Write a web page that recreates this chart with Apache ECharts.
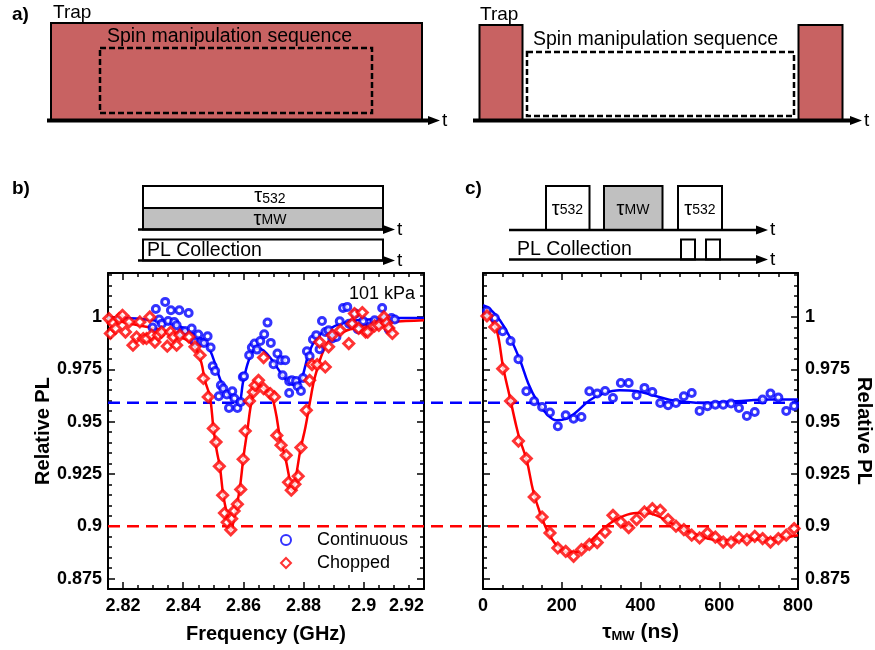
<!DOCTYPE html>
<html>
<head>
<meta charset="utf-8">
<title>Relative PL</title>
<script src="https://cdn.jsdelivr.net/npm/echarts@6/dist/echarts.min.js"></script>
<style>html,body{margin:0;padding:0;background:#fff}#chart{width:875px;height:650px}</style>
</head>
<body>
<div id="chart"></div>
<script>
var FONT = '"Liberation Sans", Arial, sans-serif';

// tick values
var freqTicks = [2.82, 2.84, 2.86, 2.88, 2.9, 2.92];
var plTicks = [0.875, 0.9, 0.925, 0.95, 0.975, 1];
var refLevels = [0.959, 0.9]; // dashed lines: continuous, chopped

// panel b: frequency sweep (GHz, relative PL)
var contFreq = [[2.8298,0.9949],[2.8309,1.0038],[2.8320,0.9988],[2.8329,0.9968],[2.8340,1.0072],[2.8350,0.9981],[2.8359,1.0032],[2.8370,0.9976],[2.8378,0.9960],[2.8387,1.0032],[2.8395,0.9924],[2.8406,0.9933],[2.8418,1.0019],[2.8428,0.9945],[2.8439,0.9880],[2.8450,0.9916],[2.8459,0.9880],[2.8469,0.9876],[2.8481,0.9908],[2.8491,0.9854],[2.8498,0.9764],[2.8506,0.9742],[2.8518,0.9621],[2.8525,0.9674],[2.8533,0.9658],[2.8545,0.9629],[2.8552,0.9565],[2.8563,0.9645],[2.8570,0.9610],[2.8580,0.9565],[2.8591,0.9594],[2.8598,0.9713],[2.8602,0.9717],[2.8619,0.9817],[2.8628,0.9854],[2.8637,0.9873],[2.8645,0.9844],[2.8656,0.9885],[2.8669,0.9917],[2.8680,0.9973],[2.8691,0.9876],[2.8700,0.9774],[2.8713,0.9825],[2.8725,0.9793],[2.8730,0.9721],[2.8739,0.9793],[2.8752,0.9693],[2.8752,0.9637],[2.8761,0.9697],[2.8775,0.9694],[2.8780,0.9669],[2.8791,0.9646],[2.8798,0.9708],[2.8811,0.9836],[2.8820,0.9812],[2.8831,0.9892],[2.8842,0.9913],[2.8853,0.9846],[2.8861,0.9981],[2.8872,0.9928],[2.8883,0.9936],[2.8895,0.9897],[2.8909,0.9904],[2.8920,0.9979],[2.8931,1.0043],[2.8945,1.0048],[2.8951,0.9968],[2.8961,0.9968],[2.8972,1.0016],[2.8980,0.9941],[2.8998,0.9981],[2.9011,0.9932],[2.9022,0.9956],[2.9036,0.9984],[2.9047,0.9964],[2.9061,1.0043],[2.9072,0.9988],[2.9083,0.9940],[2.9092,0.9995],[2.9103,0.9988]];
var chopFreq = [[2.8153,0.9992],[2.8158,0.9921],[2.8167,0.9971],[2.8175,0.9945],[2.8187,0.9992],[2.8198,1.0008],[2.8208,0.9928],[2.8220,0.9976],[2.8233,0.9865],[2.8245,0.9904],[2.8256,0.9976],[2.8267,0.9897],[2.8278,0.9897],[2.8289,1.0000],[2.8295,0.9913],[2.8306,0.9880],[2.8317,0.9913],[2.8328,0.9928],[2.8347,0.9860],[2.8358,0.9928],[2.8367,0.9904],[2.8378,0.9865],[2.8389,0.9913],[2.8419,0.9904],[2.8439,0.9857],[2.8456,0.9817],[2.8467,0.9706],[2.8483,0.9618],[2.8500,0.9467],[2.8509,0.9402],[2.8520,0.9286],[2.8531,0.9148],[2.8537,0.9063],[2.8546,0.9019],[2.8558,0.8983],[2.8561,0.9036],[2.8569,0.9073],[2.8580,0.9105],[2.8591,0.9176],[2.8599,0.9320],[2.8606,0.9455],[2.8620,0.9598],[2.8633,0.9641],[2.8639,0.9673],[2.8650,0.9697],[2.8667,0.9806],[2.8667,0.9658],[2.8689,0.9634],[2.8703,0.9618],[2.8711,0.9434],[2.8725,0.9387],[2.8742,0.9339],[2.8750,0.9210],[2.8759,0.9172],[2.8771,0.9200],[2.8782,0.9239],[2.8791,0.9376],[2.8809,0.9554],[2.8820,0.9697],[2.8828,0.9772],[2.8845,0.9772],[2.8853,0.9880],[2.8872,0.9761],[2.8883,0.9857],[2.8895,0.9913],[2.8922,0.9936],[2.8950,0.9873],[2.8961,0.9968],[2.8969,1.0016],[2.8983,0.9945],[2.8995,1.0021],[2.9006,0.9928],[2.9013,0.9928],[2.9036,0.9957],[2.9050,0.9960],[2.9067,1.0000],[2.9076,0.9971],[2.9083,0.9947],[2.9095,0.9921]];
var contFreqFit = [[2.815,0.9995],[2.8222,0.9994],[2.8322,0.9979],[2.8389,0.9955],[2.8434,0.9920],[2.8478,0.9869],[2.8500,0.9801],[2.8522,0.9705],[2.8545,0.9634],[2.8567,0.9602],[2.8584,0.9594],[2.8600,0.9697],[2.8622,0.9809],[2.8645,0.9849],[2.8667,0.9840],[2.8700,0.9784],[2.8734,0.9712],[2.8761,0.9677],[2.8778,0.9672],[2.8795,0.9712],[2.8817,0.9824],[2.8845,0.9904],[2.8878,0.9936],[2.8923,0.9968],[2.8978,0.9984],[2.9034,0.9989],[2.9112,0.9995],[2.92,0.9995]];
var chopFreqFit = [[2.815,0.9992],[2.8222,0.9968],[2.8333,0.9936],[2.8389,0.9904],[2.8422,0.9880],[2.8445,0.9841],[2.8461,0.9777],[2.8472,0.9697],[2.8489,0.9616],[2.8500,0.9473],[2.8511,0.9363],[2.8522,0.9282],[2.8533,0.9148],[2.8550,0.9028],[2.8558,0.8980],[2.8572,0.9062],[2.8587,0.9172],[2.8600,0.9329],[2.8613,0.9458],[2.8628,0.9602],[2.8645,0.9674],[2.8661,0.9665],[2.8689,0.9634],[2.8706,0.9554],[2.8722,0.9420],[2.8739,0.9329],[2.8756,0.9205],[2.8761,0.9172],[2.8772,0.9219],[2.8789,0.9363],[2.8806,0.9473],[2.8822,0.9602],[2.8839,0.9721],[2.8878,0.9873],[2.8922,0.9921],[2.8978,0.9952],[2.9033,0.9968],[2.9089,0.9976],[2.92,0.9984]];

// panel c: tau_MW sweep (ns, relative PL)
var contTau = [[10,1.003],[30,0.9995],[50,0.9932],[70,0.9885],[90,0.9798],[110,0.9645],[130,0.9597],[150,0.9570],[170,0.9543],[190,0.9478],[210,0.9530],[230,0.9514],[250,0.9522],[270,0.9645],[290,0.9634],[310,0.9646],[330,0.9613],[350,0.9684],[370,0.9684],[390,0.9626],[410,0.9661],[430,0.9641],[450,0.9589],[470,0.9578],[490,0.9589],[510,0.9621],[530,0.9637],[550,0.9551],[570,0.9573],[590,0.9581],[610,0.9581],[630,0.9586],[650,0.9565],[670,0.9527],[690,0.9546],[710,0.9605],[730,0.9634],[750,0.9615],[770,0.9551],[790,0.9575]];
var chopTau = [[10,1.0005],[30,0.9952],[50,0.9753],[70,0.9598],[90,0.9407],[110,0.9323],[130,0.9140],[150,0.9044],[170,0.8968],[190,0.8896],[210,0.8880],[230,0.8856],[250,0.8888],[270,0.8913],[290,0.8922],[310,0.8972],[330,0.9052],[350,0.9020],[370,0.8993],[390,0.9032],[410,0.9068],[430,0.9084],[450,0.9076],[470,0.9032],[490,0.9000],[510,0.8984],[530,0.8957],[550,0.8944],[570,0.8968],[590,0.8948],[610,0.8924],[630,0.8924],[650,0.8945],[670,0.8936],[690,0.8952],[710,0.8941],[730,0.8924],[750,0.8941],[770,0.8957],[790,0.8989]];
var contTauFit = [[0,1.0056],[17,1.0040],[43,0.9984],[68,0.9904],[94,0.9793],[115,0.9682],[136,0.9602],[161,0.9538],[187,0.9506],[212,0.9514],[237,0.9546],[271,0.9602],[305,0.9634],[347,0.9650],[389,0.9646],[431,0.9626],[473,0.9605],[516,0.9594],[558,0.9589],[642,0.9597],[727,0.9605],[800,0.9605]];
var chopTauFit = [[0,1.0024],[18,0.9992],[35,0.9936],[51,0.9761],[68,0.9618],[85,0.9474],[94,0.9411],[111,0.9315],[127,0.9172],[144,0.9068],[165,0.8972],[187,0.8909],[212,0.8877],[237,0.8877],[262,0.8909],[288,0.8957],[321,0.9012],[355,0.9047],[389,0.9063],[414,0.9063],[440,0.9052],[473,0.9020],[516,0.8980],[558,0.8948],[600,0.8933],[642,0.8933],[684,0.8936],[727,0.8941],[769,0.8948],[800,0.8957]];

var PL_MIN = 0.87, PL_MAX = 1.021;
var FREQ_MIN = 2.815, FREQ_MAX = 2.92;

function steps(a, b, d) {
  var out = [];
  for (var v = a; v <= b + d / 2; v += d) out.push(Math.round(v * 10000) / 10000);
  return out;
}
var freqMinor = steps(FREQ_MIN, FREQ_MAX, 0.005);
var plMinor = steps(PL_MIN, 1.02, 0.005);

var labelStyle = {fontFamily: FONT, fontSize: 18, fontWeight: 'bold', color: '#000'};
var nameStyle = {fontFamily: FONT, fontSize: 20, fontWeight: 'bold', color: '#000'};

function axis(o) {
  var a = {
    type: 'value', gridIndex: o.grid, position: o.pos, min: o.min, max: o.max,
    splitLine: {show: false},
    axisLine: {show: o.line !== false, onZero: false, lineStyle: {color: '#000', width: 2}},
    axisTick: {show: true, inside: true, length: o.len || 7, lineStyle: {color: '#000', width: 1.5}},
    axisLabel: {show: false}
  };
  if (o.ticks) a.axisTick.customValues = o.ticks;
  if (o.interval) {
    a.interval = o.interval;
    a.minorTick = {show: true, splitNumber: 4, length: 4, lineStyle: {color: '#000', width: 1.5}};
  }
  if (o.labels) a.axisLabel = Object.assign({show: true, margin: o.margin || 8}, labelStyle, o.labels);
  if (o.name) {
    a.name = o.name; a.nameLocation = 'middle'; a.nameGap = o.nameGap;
    a.nameTextStyle = Object.assign({}, nameStyle, o.nameStyle || {});
    if (o.nameRotate !== undefined) a.nameRotate = o.nameRotate;
  }
  return a;
}

var xAxes = [
  axis({grid: 0, pos: 'bottom', min: FREQ_MIN, max: FREQ_MAX, ticks: freqTicks,
        labels: {customValues: freqTicks, alignMaxLabel: 'right'},
        name: 'Frequency (GHz)', nameGap: 35}),
  axis({grid: 0, pos: 'bottom', min: FREQ_MIN, max: FREQ_MAX, ticks: freqMinor, len: 4, line: false}),
  axis({grid: 0, pos: 'top', min: FREQ_MIN, max: FREQ_MAX, ticks: freqTicks}),
  axis({grid: 0, pos: 'top', min: FREQ_MIN, max: FREQ_MAX, ticks: freqMinor, len: 4, line: false}),
  axis({grid: 1, pos: 'bottom', min: 0, max: 800, interval: 200, labels: {},
        name: '{t|τ}{s|MW}{t| (ns)}', nameGap: 33,
        nameStyle: {rich: {t: {fontFamily: FONT, fontSize: 21, fontWeight: 'bold'},
                           s: {fontFamily: FONT, fontSize: 13, fontWeight: 'bold', padding: [7, 0, 0, 0]}}}}),
  axis({grid: 1, pos: 'top', min: 0, max: 800, interval: 200}),
  {type: 'value', gridIndex: 2, min: 0, max: 1, show: false}
];

var yAxes = [
  axis({grid: 0, pos: 'left', min: PL_MIN, max: PL_MAX, ticks: plTicks,
        labels: {customValues: plTicks, margin: 6},
        name: 'Relative PL', nameGap: 55, nameRotate: 90}),
  axis({grid: 0, pos: 'left', min: PL_MIN, max: PL_MAX, ticks: plMinor, len: 4, line: false}),
  axis({grid: 0, pos: 'right', min: PL_MIN, max: PL_MAX, ticks: plTicks}),
  axis({grid: 0, pos: 'right', min: PL_MIN, max: PL_MAX, ticks: plMinor, len: 4, line: false}),
  axis({grid: 1, pos: 'left', min: PL_MIN, max: PL_MAX, ticks: plTicks}),
  axis({grid: 1, pos: 'left', min: PL_MIN, max: PL_MAX, ticks: plMinor, len: 4, line: false}),
  axis({grid: 1, pos: 'right', min: PL_MIN, max: PL_MAX, ticks: plTicks,
        labels: {customValues: plTicks, margin: 7},
        name: 'Relative PL', nameGap: 52, nameRotate: -90}),
  axis({grid: 1, pos: 'right', min: PL_MIN, max: PL_MAX, ticks: plMinor, len: 4, line: false}),
  {type: 'value', gridIndex: 2, min: PL_MIN, max: PL_MAX, show: false}
];

var BLUE = '#0000ff', RED = '#ff0000';

function dots(name, data, color, symbol, size, xi, yi) {
  return {name: name, type: 'scatter', xAxisIndex: xi, yAxisIndex: yi, data: data,
          symbol: symbol, symbolSize: size, z: 4, silent: true,
          itemStyle: {color: '#fff', borderColor: color, borderWidth: 3}};
}
function fit(name, data, color, xi, yi) {
  return {name: name, type: 'line', xAxisIndex: xi, yAxisIndex: yi, data: data,
          smooth: 0.4, showSymbol: false, z: 3, silent: true,
          lineStyle: {color: color, width: 2.5}};
}
function refLine(level, color) {
  return {type: 'line', xAxisIndex: 6, yAxisIndex: 8, data: [[0, level], [1, level]],
          showSymbol: false, z: 2, silent: true,
          lineStyle: {color: color, width: 2.5, type: [12, 7]}};
}

var series = [
  refLine(refLevels[0], BLUE),
  refLine(refLevels[1], RED),
  fit('Continuous fit', contFreqFit, BLUE, 0, 0),
  fit('Chopped fit', chopFreqFit, RED, 0, 0),
  dots('Continuous', contFreq, BLUE, 'circle', 7, 0, 0),
  dots('Chopped', chopFreq, RED, 'diamond', 10, 0, 0),
  fit('Continuous fit', contTauFit, BLUE, 4, 4),
  fit('Chopped fit', chopTauFit, RED, 4, 4),
  dots('Continuous', contTau, BLUE, 'circle', 7, 4, 4),
  dots('Chopped', chopTau, RED, 'diamond', 10, 4, 4)
];

// schematic drawing helpers
function rect(x, y, w, h, fill, dash) {
  return {type: 'rect', shape: {x: x, y: y, width: w, height: h}, z: 10,
          style: {fill: fill, stroke: '#000', lineWidth: dash ? 2.5 : 2, lineDash: dash || null}};
}
function axisArrow(x1, x2, y, w) {
  return [
    {type: 'line', shape: {x1: x1, y1: y, x2: x2 - 8, y2: y}, z: 11, style: {stroke: '#000', lineWidth: w}},
    {type: 'polygon', shape: {points: [[x2 - 12, y - 4.5], [x2, y], [x2 - 12, y + 4.5]]}, z: 11, style: {fill: '#000'}},
    txt('t', x2 + 2, y, 19, 'normal', 'left')
  ];
}
function txt(s, x, y, size, weight, align, rich) {
  return {type: 'text', x: x, y: y, z: 12,
          style: {text: s, fill: '#000', font: weight + ' ' + size + 'px ' + FONT,
                  textAlign: align || 'left', textVerticalAlign: 'middle', rich: rich}};
}
var tauRich = {
  t: {fontFamily: FONT, fontSize: 20, fill: '#000'},
  s: {fontFamily: FONT, fontSize: 14, fill: '#000', padding: [2, 0, 0, 0]},
  d: {fontFamily: FONT, fontSize: 14, fill: '#000', padding: [7, 0, 0, 0]}
};
var TRAP = '#c86262', GREY = '#c0c0c0';

var graphics = [].concat(
  // a) left
  [rect(51, 23, 371, 97, TRAP), rect(100, 48, 272, 65, 'none', [6, 3])],
  axisArrow(47, 440, 120.5, 4),
  [txt('a)', 12, 15, 19, 'bold'), txt('Trap', 53, 13, 19, 'normal'),
   txt('Spin manipulation sequence', 107, 37, 19.5, 'normal')],
  // a) right
  [rect(479.5, 25, 43, 95, TRAP), rect(798.5, 25, 44, 95, TRAP), rect(527, 52, 267, 64, 'none', [6, 3])],
  axisArrow(473, 862, 120.5, 4),
  [txt('Trap', 480, 15, 19, 'normal'), txt('Spin manipulation sequence', 533, 40, 19.5, 'normal')],
  // b) pulse scheme
  [txt('b)', 12, 189, 19, 'bold'),
   rect(143, 186, 240, 22, '#fff'), rect(143, 208, 240, 21.5, GREY),
   txt('{t|τ}{d|532}', 270, 196, 17, 'normal', 'center', tauRich),
   txt('{t|τ}{s|MW}', 270, 219, 17, 'normal', 'center', tauRich),
   rect(143, 239.5, 240, 21, '#fff'),
   txt('PL Collection', 147, 251, 19.5, 'normal')],
  axisArrow(138, 395, 229.5, 2.5),
  axisArrow(138, 395, 260.5, 2.5),
  // c) pulse scheme
  [txt('c)', 465, 189, 19, 'bold'),
   rect(546, 186, 43.5, 44, '#fff'), rect(604, 186, 58.5, 44, GREY), rect(678, 186, 44, 44, '#fff'),
   txt('{t|τ}{s|532}', 567.5, 209, 17, 'normal', 'center', tauRich),
   txt('{t|τ}{s|MW}', 633, 209, 17, 'normal', 'center', tauRich),
   txt('{t|τ}{s|532}', 700, 209, 17, 'normal', 'center', tauRich),
   rect(681, 239.5, 14, 20, '#fff'), rect(706, 239.5, 14, 20, '#fff'),
   txt('PL Collection', 517, 250, 19.5, 'normal')],
  axisArrow(509, 768, 230, 2.5),
  axisArrow(509, 768, 259.5, 2.5),
  [txt('101 kPa', 382, 294, 18, 'normal', 'center')]
);

var chart = echarts.init(document.getElementById('chart'), null, {renderer: 'canvas'});
chart.setOption({
  backgroundColor: '#fff',
  animation: false,
  textStyle: {fontFamily: FONT},
  grid: [
    {left: 108, top: 273, width: 316, height: 316},
    {left: 483, top: 273, width: 316, height: 316},
    {left: 108, top: 273, width: 691, height: 316}
  ],
  xAxis: xAxes,
  yAxis: yAxes,
  legend: {
    data: ['Continuous', 'Chopped'], orient: 'vertical', left: 275, top: 525,
    itemWidth: 10, itemHeight: 10, itemGap: 3, selectedMode: false,
    textStyle: {fontFamily: FONT, fontSize: 18, color: '#000', lineHeight: 20, padding: [0, 0, 0, 21]}
  },
  series: series,
  graphic: graphics
});
</script>
</body>
</html>
